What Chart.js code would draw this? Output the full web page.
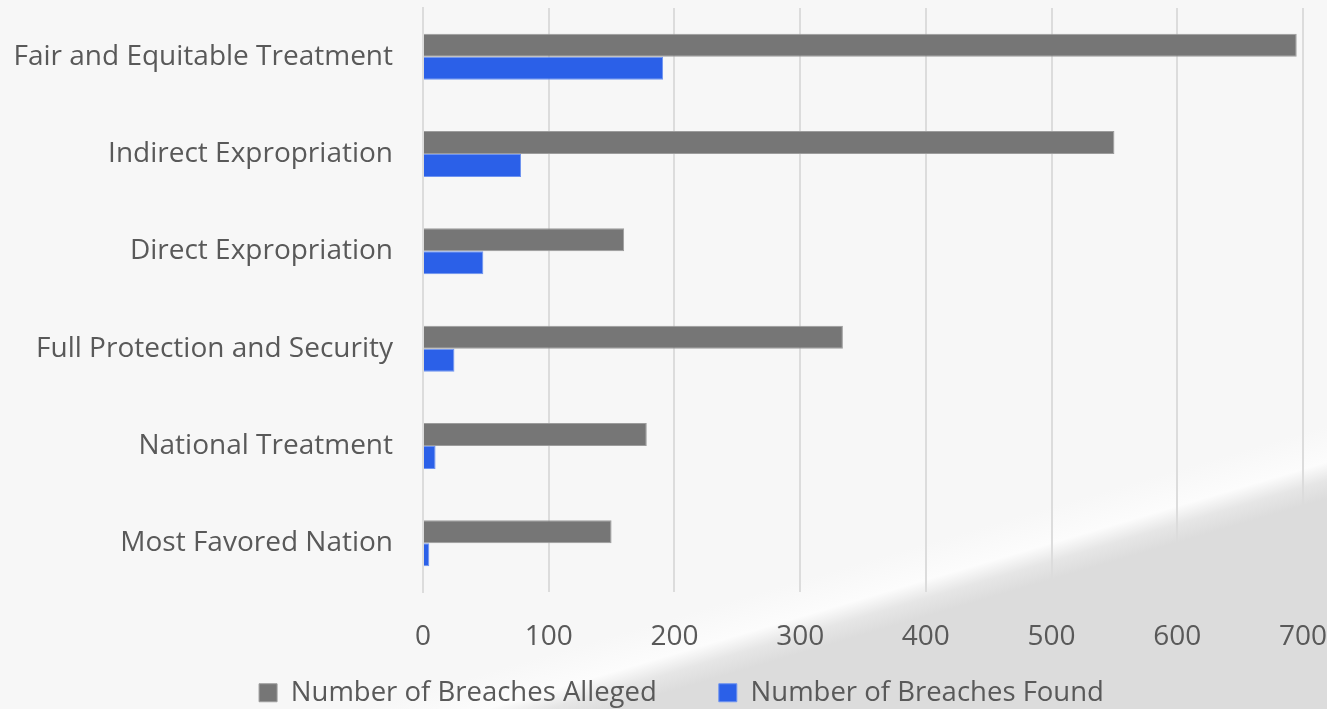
<!DOCTYPE html>
<html>
<head>
<meta charset="utf-8">
<script src="https://cdn.jsdelivr.net/npm/chart.js@4"></script>
<style>
  html, body { margin: 0; padding: 0; background: #f7f7f7; }
  #wrap { width: 1327px; height: 709px; position: relative; }
</style>
</head>
<body>
<div id="wrap"><canvas id="chart"></canvas></div>
<script>
const categorias = [
    "Fair and Equitable Treatment",
    "Indirect Expropriation",
    "Direct Expropriation",
    "Full Protection and Security",
    "National Treatment",
    "Most Favored Nation"
];
const alegadas = [695, 550, 160, 334, 178, 150];   // Number of Breaches Alleged
const encontradas = [191, 78, 48, 25, 10, 5];      // Number of Breaches Found
const ticksX = [0, 100, 200, 300, 400, 500, 600, 700];

const textColor = "#595959";
const fonte = "'Open Sans', sans-serif";

// fundo cinza claro com a "onda" no canto inferior direito
const fundo = {
    id: "fundo",
    beforeDraw(chart) {
        const ctx = chart.ctx;
        const w = chart.width, h = chart.height;
        ctx.save();
        ctx.fillStyle = "#f7f7f7";
        ctx.fillRect(0, 0, w, h);
        // linha da onda: (520,709) -> (1327,472); normal para baixo/direita
        const nx = 0.282, ny = 0.96;
        const mx = 920, my = 592;
        const g = ctx.createLinearGradient(mx - 45 * nx, my - 45 * ny, mx + 25 * nx, my + 25 * ny);
        g.addColorStop(0, "#f7f7f7");
        g.addColorStop(0.5, "#fcfcfc");
        g.addColorStop(0.75, "#e6e6e6");
        g.addColorStop(1, "#dcdcdc");
        ctx.beginPath();
        ctx.moveTo(520 - 45 * nx - 200, h - 45 * ny + 60);
        ctx.lineTo(w, 472 - 45 * ny - 10);
        ctx.lineTo(w, h);
        ctx.lineTo(0, h);
        ctx.closePath();
        ctx.fillStyle = g;
        ctx.fill();
        ctx.restore();
    }
};

// a legenda usa padding grande (espaço entre os itens), então sobe ela depois do layout
const ajustarLegenda = {
    id: "ajustarLegenda",
    afterLayout(chart) {
        const lg = chart.legend;
        if (!lg) return;
        lg.top -= 37;
        lg.left += 10;
        lg.right += 10;
    }
};

const config = {
    type: "bar",
    data: {
        labels: categorias,
        datasets: [
            {
                label: "Number of Breaches Alleged",
                data: alegadas,
                backgroundColor: "#767676",
                borderColor: "#9c9c9c",
                borderWidth: 1
            },
            {
                label: "Number of Breaches Found",
                data: encontradas,
                backgroundColor: "#2b60e8",
                borderColor: "#6e93f0",
                borderWidth: 1
            }
        ]
    },
    options: {
        indexAxis: "y",
        responsive: true,
        maintainAspectRatio: false,
        animation: false,
        layout: { padding: { top: 8, left: 16, right: 0, bottom: -44.5 } },
        datasets: {
            bar: { barPercentage: 1, categoryPercentage: 0.473 }
        },
        scales: {
            x: {
                min: 0,
                max: 700,
                afterBuildTicks: (eixo) => { eixo.ticks = ticksX.map(v => ({ value: v })); },
                afterFit: (eixo) => { eixo.paddingLeft = 0; eixo.paddingRight = 24; eixo.height = 62; },
                grid: { color: "#dcdcdc", lineWidth: 2, drawTicks: false },
                border: { display: false },
                ticks: { color: textColor, font: { family: fonte, size: 28 }, padding: 28 }
            },
            y: {
                afterFit: (eixo) => { eixo.paddingTop = 0; eixo.paddingBottom = 0; eixo.width = 407; },
                grid: { display: false, drawTicks: false },
                border: { display: true, color: "#dcdcdc", width: 2 },
                ticks: { color: textColor, font: { family: fonte, size: 28 }, padding: 30 }
            }
        },
        plugins: {
            legend: {
                position: "bottom",
                labels: {
                    color: textColor,
                    font: { family: fonte, size: 27.5 },
                    boxWidth: 18,
                    boxHeight: 18,
                    padding: 62
                }
            },
            tooltip: { enabled: false }
        }
    },
    plugins: [fundo, ajustarLegenda]
};

new Chart(document.getElementById("chart"), config);
</script>
</body>
</html>
